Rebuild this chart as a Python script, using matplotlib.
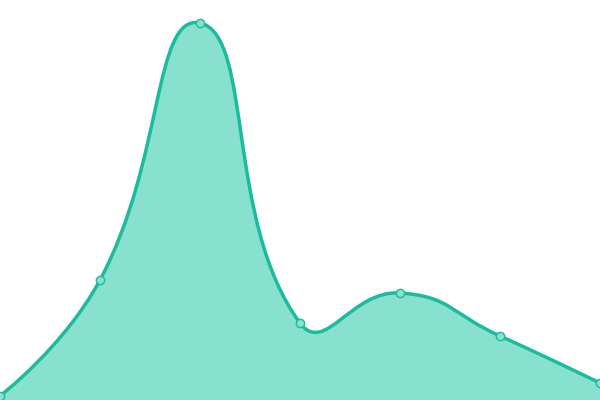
import matplotlib
matplotlib.use("Agg")
import matplotlib.pyplot as plt
import numpy as np
from matplotlib.path import Path
from matplotlib.patches import PathPatch

# category positions and values
categories = ["A", "B", "C", "D", "E", "F", "G"]
values = [4, 120, 377, 77, 107, 64, 17]

line_color = "#1abc9c"
fill_color = "#88e0cf"
smooth = 0.5


def smooth_path(pts, smooth):
    # bezier control points, same idea as echarts smooth line
    n = len(pts)
    verts = [pts[0]]
    codes = [Path.MOVETO]
    cps = []
    for i in range(n):
        if i == 0 or i == n - 1:
            cps.append((pts[i], pts[i]))
            continue
        v = pts[i + 1] - pts[i - 1]
        d0 = np.linalg.norm(pts[i] - pts[i - 1])
        d1 = np.linalg.norm(pts[i + 1] - pts[i])
        s = d0 + d1
        cps.append((pts[i] - v * smooth * d0 / s, pts[i] + v * smooth * d1 / s))
    for i in range(n - 1):
        verts += [cps[i][1], cps[i + 1][0], pts[i + 1]]
        codes += [Path.CURVE4] * 3
    return np.array(verts), codes


fig = plt.figure(figsize=(6, 4), dpi=100)
ax = fig.add_axes([0, 0, 1, 1])
ax.set_xlim(0, len(categories) - 1)
ax.set_ylim(0, 400)
ax.axis("off")

x = np.arange(len(categories))
y = np.array(values, dtype=float)
disp = ax.transData.transform(np.column_stack([x, y]))
verts_px, codes = smooth_path(disp, smooth)
verts = ax.transData.inverted().transform(verts_px)

# area under curve
area_verts = np.vstack([verts, [[x[-1], 0], [x[0], 0], [x[0], y[0]]]])
area_codes = codes + [Path.LINETO, Path.LINETO, Path.CLOSEPOLY]
ax.add_patch(PathPatch(Path(area_verts, area_codes), facecolor=fill_color,
                       edgecolor="none", zorder=1))
ax.add_patch(PathPatch(Path(verts, codes), facecolor="none",
                       edgecolor=line_color, lw=2.5, zorder=2,
                       capstyle="round", joinstyle="round"))

ax.plot(x, y, ls="none", marker="o", ms=6, mfc=fill_color, mec=line_color,
        mew=1, zorder=3)

fig.savefig("out.png", dpi=100)
